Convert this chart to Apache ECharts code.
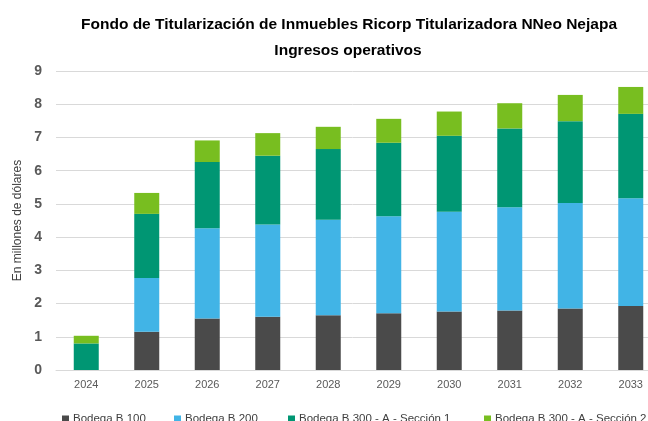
<!DOCTYPE html>
<html>
<head>
<meta charset="utf-8">
<style>
  html, body { margin: 0; padding: 0; background: #fff; }
  #chart { width: 648px; height: 421px; }
</style>
<script src="https://cdn.jsdelivr.net/npm/echarts@6/dist/echarts.min.js"></script>
</head>
<body>
<div id="chart"></div>
<script>
const years = ["2024", "2025", "2026", "2027", "2028", "2029", "2030", "2031", "2032", "2033"];
const bodegaB100 = [0, 1.15, 1.55, 1.60, 1.65, 1.71, 1.76, 1.79, 1.85, 1.93];
const bodegaB200 = [0, 1.62, 2.72, 2.78, 2.87, 2.92, 3.00, 3.11, 3.18, 3.24];
const seccion1 = [0.80, 1.93, 1.99, 2.07, 2.13, 2.21, 2.29, 2.37, 2.46, 2.54];
const seccion2 = [0.23, 0.63, 0.65, 0.68, 0.67, 0.72, 0.73, 0.76, 0.79, 0.81];
const seriesNames = ["Bodega B 100", "Bodega B 200", "Bodega B 300 - A - Sección 1", "Bodega B 300 - A - Sección 2"];
const colors = ["#4a4a4a", "#41b4e6", "#009673", "#78be20"];

const font = '"Liberation Sans", Arial, sans-serif';
const chart = echarts.init(document.getElementById("chart"));

// Excel places each legend entry on its own; one legend per entry keeps the spacing
function legendAt(name, left) {
  return {
    data: [name],
    left: left,
    top: 408,
    itemWidth: 7,
    itemHeight: 7,
    icon: "rect",
    itemGap: 0,
    textStyle: { fontFamily: font, fontSize: 11.5, color: "#404040", padding: [0, 0, 0, -1] }
  };
}

chart.setOption({
  animation: false,
  color: colors,
  textStyle: { fontFamily: font },
  title: [
    {
      text: "Fondo de Titularización de Inmuebles Ricorp Titularizadora NNeo Nejapa",
      left: 344,
      top: 12,
      textAlign: "center",
      textStyle: { fontFamily: font, fontSize: 15.5, fontWeight: "bold", color: "#000" }
    },
    {
      text: "Ingresos operativos",
      left: 343,
      top: 38,
      textAlign: "center",
      textStyle: { fontFamily: font, fontSize: 15.5, fontWeight: "bold", color: "#000" }
    }
  ],
  legend: [
    legendAt(seriesNames[0], 57),
    legendAt(seriesNames[1], 169),
    legendAt(seriesNames[2], 283),
    legendAt(seriesNames[3], 479)
  ],
  // the original chart is wider than the picture, so the plot runs past the right edge
  grid: { left: 56, width: 605, top: 71, bottom: 51, containLabel: false, outerBoundsMode: "none" },
  xAxis: {
    type: "category",
    data: years,
    axisLine: { show: true, lineStyle: { color: "#d9d9d9", width: 1 } },
    axisTick: { show: false },
    axisLabel: { color: "#595959", fontSize: 11, margin: 9, fontFamily: font }
  },
  yAxis: {
    type: "value",
    min: 0,
    max: 9,
    interval: 1,
    name: "En millones de dólares",
    nameLocation: "middle",
    nameGap: 28,
    nameTextStyle: { color: "#404040", fontSize: 12, fontFamily: font },
    axisLine: { show: false },
    axisTick: { show: false },
    axisLabel: { color: "#595959", fontSize: 14, fontWeight: "bold", margin: 14, fontFamily: font },
    splitLine: { lineStyle: { color: "#d9d9d9", width: 1 } }
  },
  series: [
    { name: seriesNames[0], type: "bar", stack: "total", barWidth: 25, data: bodegaB100 },
    { name: seriesNames[1], type: "bar", stack: "total", barWidth: 25, data: bodegaB200 },
    { name: seriesNames[2], type: "bar", stack: "total", barWidth: 25, data: seccion1 },
    { name: seriesNames[3], type: "bar", stack: "total", barWidth: 25, data: seccion2 }
  ]
});
</script>
</body>
</html>
